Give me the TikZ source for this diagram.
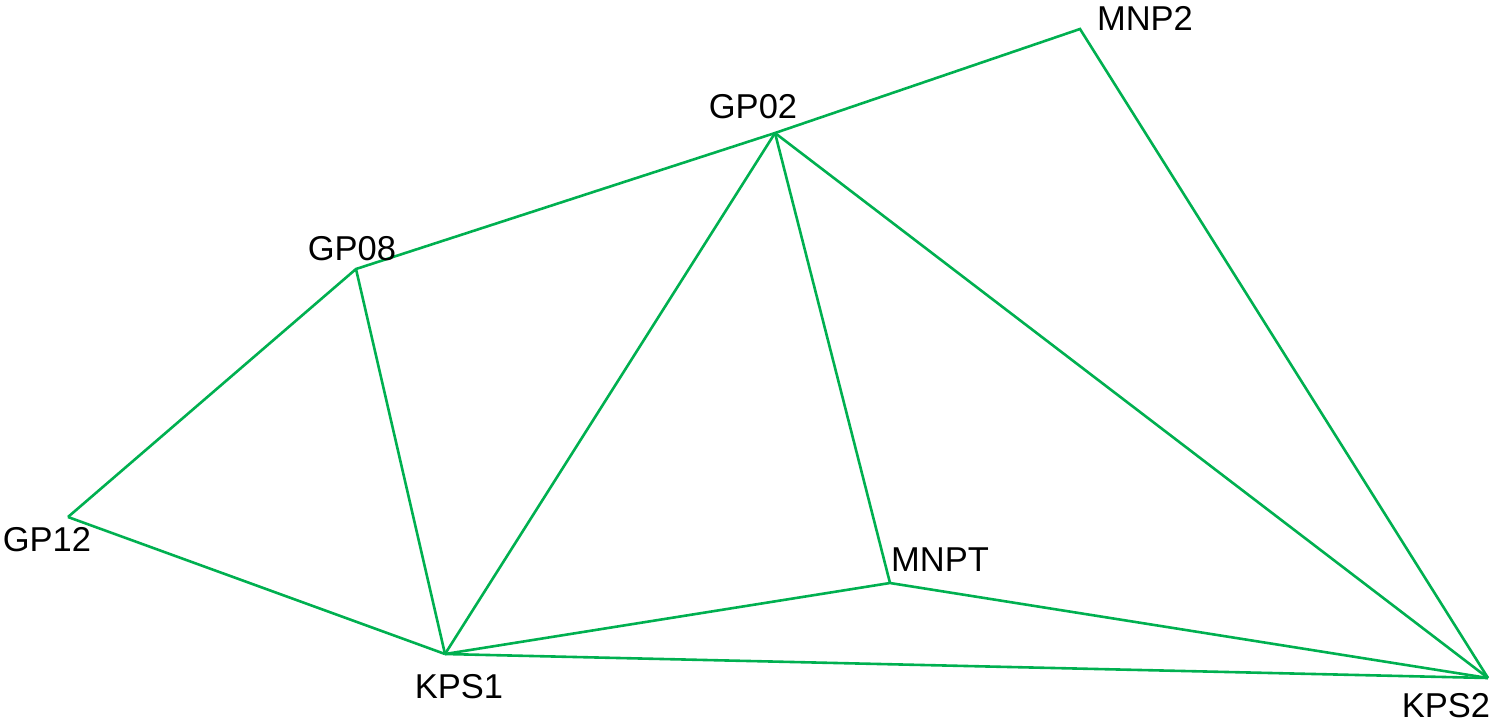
\documentclass[tikz,border=0pt]{standalone}
\usepackage{fontspec}
\setmainfont{Liberation Sans}
\definecolor{netgreen}{RGB}{0,176,80}
\begin{document}
\begin{tikzpicture}[x=1pt,y=-1pt,
  edge/.style={draw=netgreen,line width=2.6pt,line join=miter},
  lbl/.style={font=\fontsize{34.5}{34.5}\selectfont,inner sep=0pt,anchor=center}]
\useasboundingbox (0,0) rectangle (1491,724);
% station points
\coordinate (MNP2) at (1080,29);
\coordinate (GP02) at (775,133);
\coordinate (GP08) at (356,269);
\coordinate (GP12) at (68,517);
\coordinate (KPS1) at (445,654);
\coordinate (MNPT) at (890,583);
\coordinate (KPS2) at (1488,678);
% network lines
\draw[edge] (GP12) -- (GP08) -- (GP02) -- (MNP2) -- (KPS2);
\draw[edge] (GP12) -- (KPS1);
\draw[edge] (GP08) -- (KPS1);
\draw[edge] (GP02) -- (KPS1);
\draw[edge] (GP02) -- (MNPT);
\draw[edge] (GP02) -- (KPS2);
\draw[edge] (KPS1) -- (MNPT) -- (KPS2);
\draw[edge] (KPS1) -- (KPS2);
% station names
\node[lbl] (tMNP2) at (1145,18) {MNP2};
\node[lbl] (tGP02) at (753,107) {GP02};
\node[lbl] (tGP08) at (352,249) {GP08};
\node[lbl] (tGP12) at (47,540) {GP12};
\node[lbl] (tKPS1) at (459,687) {KPS1};
\node[lbl] (tMNPT) at (940,560) {MNPT};
\node[lbl] (tKPS2) at (1446,706) {KPS2};
\end{tikzpicture}
\end{document}
